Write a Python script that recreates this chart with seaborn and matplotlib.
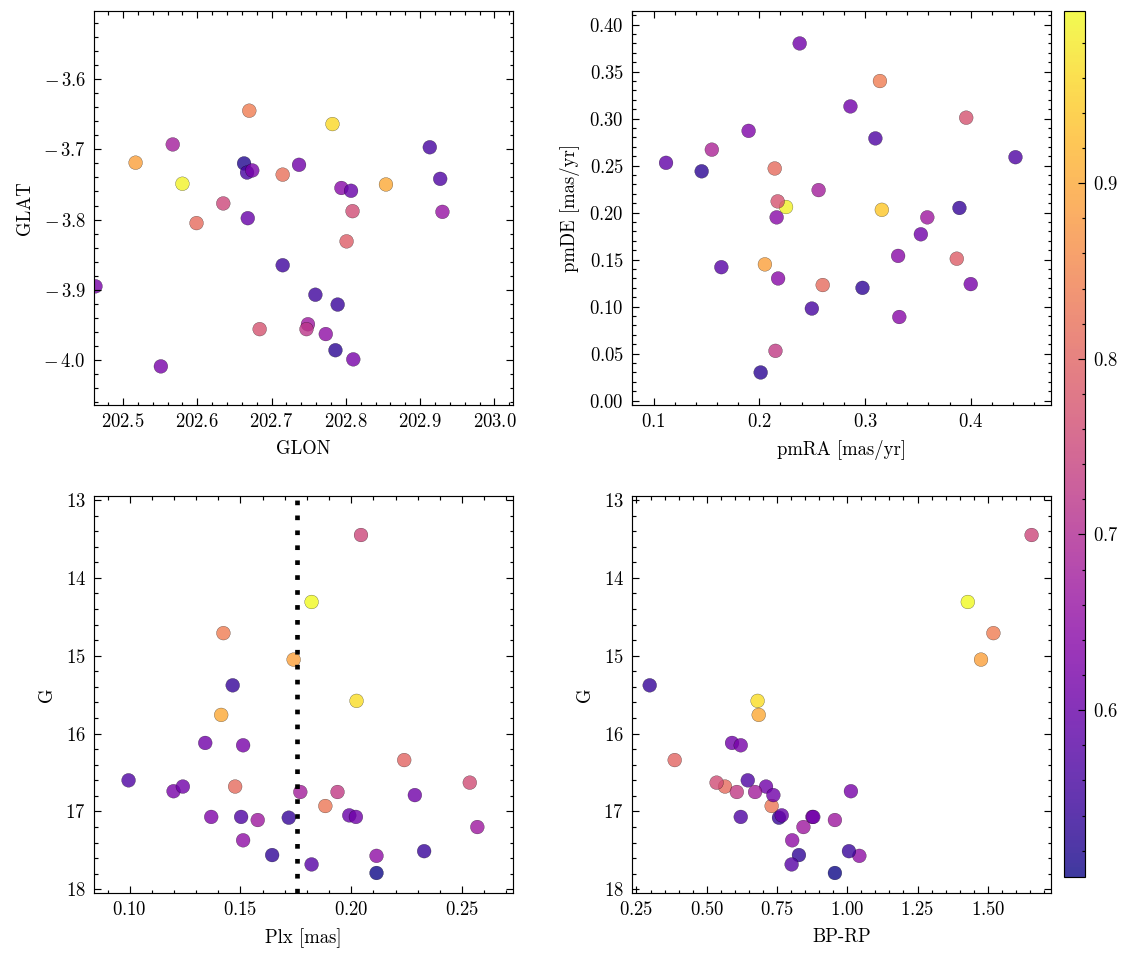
import numpy as np
import pandas as pd
import matplotlib
matplotlib.use("Agg")
import matplotlib.pyplot as plt
import matplotlib.colors as mcolors
import matplotlib.cm as cm
import matplotlib.ticker as mticker
import seaborn as sns

# ---------------- data ----------------
# Panel 1: positions
glon = [202.463, 202.517, 202.567, 202.580, 202.599, 202.551, 202.635, 202.670,
        202.663, 202.667, 202.674, 202.668, 202.715, 202.737, 202.715, 202.684,
        202.749, 202.747, 202.759, 202.773, 202.782, 202.789, 202.786, 202.810,
        202.794, 202.807, 202.809, 202.801, 202.854, 202.913, 202.927, 202.930]
glat = [-3.895, -3.719, -3.693, -3.749, -3.805, -4.009, -3.777, -3.645,
        -3.720, -3.733, -3.730, -3.798, -3.736, -3.722, -3.865, -3.956,
        -3.949, -3.956, -3.907, -3.963, -3.664, -3.921, -3.986, -3.999,
        -3.755, -3.759, -3.788, -3.831, -3.750, -3.697, -3.742, -3.789]
prob_pos = [0.62, 0.89, 0.68, 0.99, 0.81, 0.62, 0.75, 0.84,
            0.52, 0.56, 0.62, 0.60, 0.82, 0.61, 0.55, 0.77,
            0.67, 0.72, 0.55, 0.65, 0.96, 0.545, 0.53, 0.62,
            0.64, 0.60, 0.76, 0.79, 0.90, 0.56, 0.57, 0.66]

# Panel 2: proper motions
pmra = [0.2382, 0.3141, 0.2862, 0.3957, 0.1899, 0.3098, 0.1551, 0.1118,
        0.1455, 0.2146, 0.4423, 0.2561, 0.2164, 0.2253, 0.2174, 0.3159,
        0.3893, 0.3589, 0.3528, 0.3313, 0.3868, 0.2053, 0.1641, 0.2178,
        0.2600, 0.2976, 0.4000, 0.2497, 0.3324, 0.2153, 0.2013]
pmde = [0.380, 0.340, 0.313, 0.301, 0.287, 0.279, 0.267, 0.253,
        0.244, 0.247, 0.259, 0.224, 0.195, 0.206, 0.212, 0.203,
        0.205, 0.195, 0.177, 0.154, 0.151, 0.145, 0.142, 0.130,
        0.123, 0.120, 0.124, 0.098, 0.089, 0.053, 0.030]
prob_pm = [0.61, 0.84, 0.61, 0.77, 0.63, 0.57, 0.69, 0.59,
           0.53, 0.81, 0.57, 0.68, 0.64, 0.99, 0.77, 0.94,
           0.54, 0.67, 0.61, 0.64, 0.79, 0.89, 0.58, 0.64,
           0.81, 0.535, 0.62, 0.56, 0.64, 0.73, 0.53]

# Panels 3 & 4: photometry / parallax
gmag = [13.45, 14.31, 14.71, 15.05, 15.38, 15.58, 15.76, 16.12,
        16.15, 16.34, 16.60, 16.74, 16.68, 16.68, 16.75, 16.75,
        16.93, 16.79, 16.63, 17.07, 17.07, 17.11, 17.08, 17.05,
        17.07, 17.20, 17.37, 17.56, 17.68, 17.57, 17.79, 17.51]
plx = [0.2044, 0.1821, 0.1423, 0.1740, 0.1465, 0.2024, 0.1413, 0.1341,
       0.1512, 0.2239, 0.0995, 0.1198, 0.1240, 0.1476, 0.1770, 0.1938,
       0.1883, 0.2287, 0.2535, 0.1368, 0.1503, 0.1578, 0.1718, 0.1991,
       0.2021, 0.2569, 0.1512, 0.1643, 0.1821, 0.2114, 0.2114, 0.2329]
bprp = [1.656, 1.429, 1.520, 1.476, 0.297, 0.681, 0.685, 0.590,
        0.621, 0.386, 0.646, 1.013, 0.711, 0.565, 0.672, 0.607,
        0.731, 0.737, 0.535, 0.876, 0.621, 0.956, 0.757, 0.767,
        0.879, 0.844, 0.804, 0.828, 0.802, 1.043, 0.956, 1.006]
prob_phot = [0.75, 0.998, 0.84, 0.89, 0.54, 0.965, 0.90, 0.61,
             0.62, 0.80, 0.57, 0.62, 0.61, 0.81, 0.68, 0.73,
             0.83, 0.61, 0.76, 0.63, 0.57, 0.67, 0.54, 0.60,
             0.61, 0.67, 0.65, 0.535, 0.58, 0.65, 0.505, 0.545]

plx_cut = 0.1755
prob_min, prob_max = 0.505, 0.998

df_pos = pd.DataFrame({"GLON": glon, "GLAT": glat, "p": prob_pos})
df_pm = pd.DataFrame({"pmRA": pmra, "pmDE": pmde, "p": prob_pm})
df_ph = pd.DataFrame({"G": gmag, "Plx": plx, "BPRP": bprp, "p": prob_phot})

# ---------------- style ----------------
plt.rcParams.update({
    "font.family": "serif",
    "font.serif": ["cmr10", "DejaVu Serif"],
    "mathtext.fontset": "cm",
    "axes.formatter.use_mathtext": True,
    "font.size": 8,
    "axes.labelsize": 8,
    "xtick.labelsize": 8,
    "ytick.labelsize": 8,
    "axes.linewidth": 0.5,
    "xtick.direction": "in",
    "ytick.direction": "in",
    "xtick.top": True,
    "ytick.right": True,
    "xtick.minor.visible": True,
    "ytick.minor.visible": True,
    "xtick.major.size": 3,
    "xtick.minor.size": 1.5,
    "ytick.major.size": 3,
    "ytick.minor.size": 1.5,
    "xtick.major.width": 0.5,
    "xtick.minor.width": 0.5,
    "ytick.major.width": 0.5,
    "ytick.minor.width": 0.5,
    "axes.unicode_minus": True,
})

W, H = 1133, 960
dpi = 168
fig = plt.figure(figsize=(W / dpi, H / dpi), dpi=dpi)

def frac(x0, y0, x1, y1):
    return [x0 / W, 1 - y1 / H, (x1 - x0) / W, (y1 - y0) / H]

ax1 = fig.add_axes(frac(94, 11, 513, 405))
ax2 = fig.add_axes(frac(632, 11, 1051, 405))
ax3 = fig.add_axes(frac(94, 496, 513, 893))
ax4 = fig.add_axes(frac(632, 496, 1051, 893))
cax = fig.add_axes(frac(1064, 11, 1085, 877))

kw = dict(hue="p", palette="plasma", hue_norm=(prob_min, prob_max),
          legend=False, s=35, alpha=0.8, edgecolor="k", linewidth=0.12)

sns.scatterplot(data=df_pos, x="GLON", y="GLAT", ax=ax1, **kw)
ax1.set_xlim(202.461, 203.025)
ax1.set_ylim(-4.064, -3.503)
ax1.set_xlabel("GLON")
ax1.set_ylabel("GLAT")
ax1.yaxis.set_major_formatter(
    mticker.FuncFormatter(lambda v, pos: r"$%s\,%.1f$" % ("-" if v < 0 else "", abs(v))))

sns.scatterplot(data=df_pm, x="pmRA", y="pmDE", ax=ax2, **kw)
ax2.set_xlim(0.0796, 0.4759)
ax2.set_ylim(-0.0046, 0.4145)
ax2.set_xlabel("pmRA [mas/yr]")
ax2.set_ylabel("pmDE [mas/yr]")

sns.scatterplot(data=df_ph, x="Plx", y="G", ax=ax3, **kw)
ax3.axvline(plx_cut, color="k", lw=2, ls=(0, (1, 2.2)))
ax3.set_xlim(0.0839, 0.273)
ax3.set_ylim(18.047, 12.949)
ax3.set_xlabel("Plx [mas]")
ax3.set_ylabel("G")

sns.scatterplot(data=df_ph, x="BPRP", y="G", ax=ax4, **kw)
ax4.set_xlim(0.234, 1.725)
ax4.set_ylim(18.047, 12.949)
ax4.set_xlabel("BP-RP")
ax4.set_ylabel("G")

for ax in (ax1, ax2, ax3, ax4):
    ax.tick_params(which="both", top=True, right=True, direction="in")

sm = cm.ScalarMappable(norm=mcolors.Normalize(prob_min, prob_max), cmap="plasma")
cb = fig.colorbar(sm, cax=cax, alpha=0.8)
cb.set_ticks([0.6, 0.7, 0.8, 0.9])
cb.ax.minorticks_on()
cb.ax.tick_params(which="both", direction="in")
cb.outline.set_linewidth(0.5)

fig.savefig("out.png", dpi=dpi)
